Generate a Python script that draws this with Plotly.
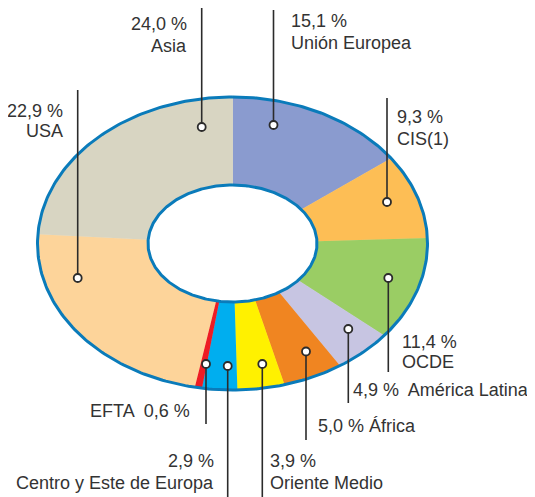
import numpy as np
import plotly.graph_objects as go

# Data: share by destination, clockwise from 12 o'clock
regions = ["Unión Europea", "CIS(1)", "OCDE", "América Latina", "África",
           "Oriente Medio", "Centro y Este de Europa", "EFTA", "USA", "Asia"]
shares = [15.1, 9.3, 11.4, 4.9, 5.0, 3.9, 2.9, 0.6, 22.9, 24.0]
colors = ["#8A9BCF", "#FDBE55", "#9ACD64", "#C7C5E2", "#F08521",
          "#FFF100", "#00AEEF", "#ED1C24", "#FDD49A", "#D8D5C2"]

# Geometry of the elliptical ring (pixel space of the page)
W, H = 535, 497
PAD = 8  # page body margin around the plot div
CX, CY = 232.5, 243.5
RX, RY = 195, 146.5
IRX, IRY = 84.5, 58.5
RING = "#0A7BBA"
INK = "#2B2B2B"


def pct(v):
    return f"{v:.1f}".replace(".", ",") + " %"


# Leader/label placement: leader x, dot y, leader end y, text lines (x, y, anchor, template)
labels = {
    "Unión Europea": dict(lx=273.5, dy=125, ey=10,
                          txt=[(289, 21, "left", "{p}"), (289, 43, "left", "{n}")]),
    "CIS(1)": dict(lx=387, dy=202, ey=98,
                   txt=[(395, 117, "left", "{p}"), (395, 139, "left", "{n}")]),
    "OCDE": dict(lx=388.3, dy=278, ey=372,
                 txt=[(400, 342, "left", "{p}"), (400, 362, "left", "{n}")]),
    "América Latina": dict(lx=348.3, dy=329, ey=403,
                           txt=[(531, 390, "right", "{p} \u2009{n}")]),
    "África": dict(lx=306, dy=351.5, ey=440,
                   txt=[(316, 426, "left", "{p} {n}")]),
    "Oriente Medio": dict(lx=262.3, dy=364, ey=500,
                          txt=[(268, 461, "left", "{p}"), (268, 483, "left", "{n}")]),
    "Centro y Este de Europa": dict(lx=227.7, dy=366, ey=500,
                                    txt=[(216, 461, "right", "{p}"), (216, 483, "right", "{n}")]),
    "EFTA": dict(lx=206, dy=364, ey=424,
                 txt=[(192, 411, "right", "{n}  {p}")]),
    "USA": dict(lx=77.7, dy=278, ey=90,
                txt=[(65, 111, "right", "{p}"), (65, 131, "right", "{n}")]),
    "Asia": dict(lx=201.7, dy=127, ey=7,
                 txt=[(189, 24, "right", "{p}"), (189, 46, "right", "{n}")]),
}

fig = go.Figure()

# ring slices
total = sum(shares)
start = 0.0
for name, v, c in zip(regions, shares, colors):
    a0 = start / total * 2 * np.pi
    a1 = (start + v) / total * 2 * np.pi
    start += v
    t = np.linspace(a0, a1, max(4, int(v * 8)))
    xs = np.concatenate([CX + RX * np.sin(t), CX + IRX * np.sin(t[::-1])])
    ys = np.concatenate([CY - RY * np.cos(t), CY - IRY * np.cos(t[::-1])])
    fig.add_trace(go.Scatter(x=xs, y=ys, fill="toself", fillcolor=c, mode="lines",
                             line=dict(color=c, width=0.8), hoverinfo="text",
                             text=f"{name}: {pct(v)}", showlegend=False))

# blue outlines
tt = np.linspace(0, 2 * np.pi, 361)
for rx, ry in [(RX, RY), (IRX, IRY)]:
    fig.add_trace(go.Scatter(x=CX + rx * np.sin(tt), y=CY - ry * np.cos(tt), mode="lines",
                             line=dict(color=RING, width=3), hoverinfo="skip",
                             showlegend=False))

# leader lines, dots and labels
lx, ly, dx, dy = [], [], [], []
for name, v in zip(regions, shares):
    L = labels[name]
    lx += [L["lx"], L["lx"], None]
    ly += [L["dy"], L["ey"], None]
    dx.append(L["lx"])
    dy.append(L["dy"])
    for x, y, anc, s in L["txt"]:
        fig.add_annotation(x=x, y=y, text=s.format(p=pct(v), n=name), showarrow=False,
                           xanchor=anc, yanchor="middle",
                           font=dict(family="Liberation Sans, Arial", size=18, color="#333333"))

fig.add_trace(go.Scatter(x=lx, y=ly, mode="lines", line=dict(color=INK, width=1.6),
                         hoverinfo="skip", showlegend=False))
fig.add_trace(go.Scatter(x=dx, y=dy, mode="markers", hoverinfo="skip", showlegend=False,
                         marker=dict(size=8, color="white", line=dict(color=INK, width=1.8))))

fig.update_layout(
    width=W, height=H,
    margin=dict(l=0, r=0, t=0, b=0),
    paper_bgcolor="white", plot_bgcolor="white",
    xaxis=dict(range=[PAD, W + PAD], visible=False, fixedrange=True),
    yaxis=dict(range=[H + PAD, PAD], visible=False, fixedrange=True),
)

fig.write_html("out.html")
